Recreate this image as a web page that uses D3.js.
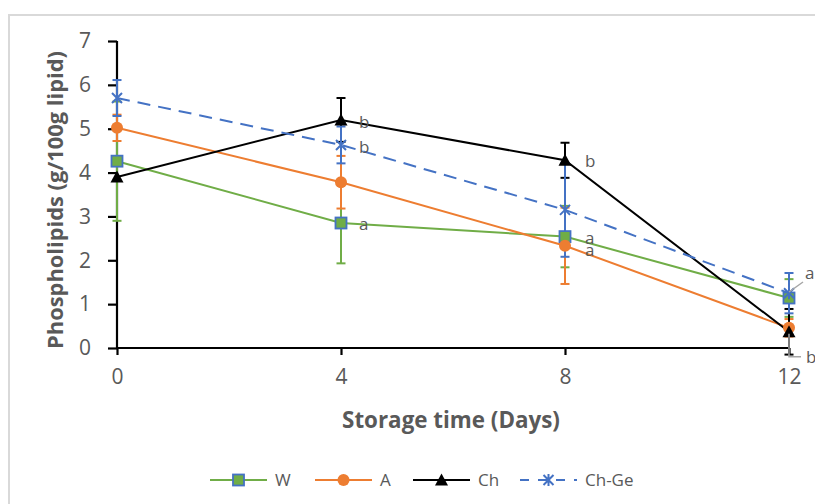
<!DOCTYPE html>
<html><head><meta charset="utf-8">
<script src="https://cdn.jsdelivr.net/npm/d3@7"></script>
<style>body{margin:0;background:#fff}svg{display:block}text{font-family:"Open Sans",sans-serif;fill:#595959}</style>
</head><body><svg id="c" width="815" height="504"></svg>
<script>
const days = [0, 4, 8, 12];
const yTicks = [0, 1, 2, 3, 4, 5, 6, 7];
const seriesNames = ["W", "A", "Ch", "Ch-Ge"];
const W = [4.26, 2.85, 2.54, 1.14];
const A = [5.02, 3.78, 2.33, 0.46];
const Ch = [3.90, 5.20, 4.28, 0.37];
const ChGe = [5.70, 4.63, 3.15, 1.25];
const errW = [1.36, 0.92, 0.70, 0.43];
const errA = [0.30, 0.60, 0.87, 0.20];
const errCh = [0.00, 0.50, 0.40, 0.52];
const errChGe = [0.41, 0.42, 1.07, 0.46];
const labelsW = ["", "a", "a", "a"];
const labelsA = ["", "", "a", ""];
const labelsCh = ["", "b", "b", "b"];
const labelsChGe = ["", "b", "", ""];

const svg = d3.select("#c");
const x = d3.scaleLinear().domain([0, 12]).range([117, 789]);
const y = d3.scaleLinear().domain([0, 7]).range([348, 41]);

// outer border
svg.append("path").attr("d", "M9,504V15H815").attr("fill", "none").attr("stroke", "#d9d9d9").attr("stroke-width", 2);

const series = [
  {name: "W", v: W, e: errW, lab: labelsW, color: "#70ad47", marker: "square", dash: null},
  {name: "A", v: A, e: errA, lab: labelsA, color: "#ed7d31", marker: "circle", dash: null},
  {name: "Ch", v: Ch, e: errCh, lab: labelsCh, color: "#000000", marker: "triangle", dash: null},
  {name: "Ch-Ge", v: ChGe, e: errChGe, lab: labelsChGe, color: "#4472c4", marker: "star", dash: "13,8"}
];

// axes
const yAxis = svg.append("g").attr("transform", `translate(${x(0)},0)`)
  .call(d3.axisLeft(y).tickValues(yTicks).tickSize(9).tickPadding(17).tickFormat(d3.format("d")));
const xAxis = svg.append("g").attr("transform", `translate(0,${y(0)})`)
  .call(d3.axisBottom(x).tickValues(days).tickSize(7).tickPadding(14).tickFormat(d3.format("d")));
[yAxis, xAxis].forEach(g => {
  g.select(".domain").attr("stroke", "#000").attr("stroke-width", 2.2);
  g.selectAll(".tick line").attr("stroke", "#000").attr("stroke-width", 2.2);
  g.selectAll(".tick text").attr("font-size", 21).attr("fill", "#595959").style("font-family", '"Open Sans",sans-serif');
});
yAxis.select(".domain").attr("d", `M0,${y(7)}V${y(0)}`);
xAxis.select(".domain").attr("d", `M${x(0)},0H${x(12)}`);

// lines
const line = d3.line().x((d, i) => x(days[i])).y(d => y(d));
series.forEach(s => {
  svg.append("path").datum(s.v).attr("d", line).attr("fill", "none")
    .attr("stroke", s.color).attr("stroke-width", 2).attr("stroke-dasharray", s.dash);
});

// error bars
series.forEach(s => {
  const g = svg.append("g").attr("stroke", s.color).attr("stroke-width", 2);
  s.v.forEach((v, i) => {
    if (!s.e[i]) return;
    const cx = x(days[i]), t = y(v + s.e[i]), b = y(v - s.e[i]);
    g.append("line").attr("x1", cx).attr("x2", cx).attr("y1", t).attr("y2", b);
    g.append("line").attr("x1", cx - 4.5).attr("x2", cx + 4.5).attr("y1", t).attr("y2", t);
    g.append("line").attr("x1", cx - 4.5).attr("x2", cx + 4.5).attr("y1", b).attr("y2", b);
  });
});

function drawMarker(g, type, cx, cy, color) {
  if (type === "square") {
    g.append("rect").attr("x", cx - 5.5).attr("y", cy - 5.5).attr("width", 11).attr("height", 11)
      .attr("fill", "#70ad47").attr("stroke", "#4472c4").attr("stroke-width", 1.8);
  } else if (type === "circle") {
    g.append("circle").attr("cx", cx).attr("cy", cy).attr("r", 6).attr("fill", color);
  } else if (type === "triangle") {
    g.append("path").attr("d", `M${cx},${cy - 6.5}L${cx + 6.5},${cy + 5.5}L${cx - 6.5},${cy + 5.5}Z`).attr("fill", color);
  } else {
    const r = 5;
    g.append("path").attr("d", `M${cx - r},${cy - r}L${cx + r},${cy + r}M${cx - r},${cy + r}L${cx + r},${cy - r}M${cx},${cy - r - 1}V${cy + r + 1}`)
      .attr("stroke", color).attr("stroke-width", 2).attr("fill", "none");
  }
}

// markers
series.forEach(s => {
  const g = svg.append("g");
  s.v.forEach((v, i) => drawMarker(g, s.marker, x(days[i]), y(v), s.color));
});

// data labels
const labelOffsets = {
  "W": [[0, 0], [18, 7], [20, 7], [0, 0]],
  "A": [[0, 0], [0, 0], [20, 10], [0, 0]],
  "Ch": [[0, 0], [18, 8], [20, 7], [0, 0]],
  "Ch-Ge": [[0, 0], [18, 8], [0, 0], [0, 0]]
};
series.forEach(s => {
  s.lab.forEach((l, i) => {
    if (!l) return;
    let dx = labelOffsets[s.name][i][0], dy = labelOffsets[s.name][i][1];
    let px = x(days[i]), py = y(s.v[i]);
    if (s.name === "W" && i === 3) {
      svg.append("path").attr("d", `M${px},${py - 6}L${px + 14},${py - 16}`).attr("stroke", "#a6a6a6").attr("stroke-width", 1.5).attr("fill", "none");
      dx = 16; dy = -19;
    }
    if (s.name === "Ch" && i === 3) {
      svg.append("path").attr("d", `M${px},${py + 2}V${py + 25}H${px + 12}`).attr("stroke", "#a6a6a6").attr("stroke-width", 1.5).attr("fill", "none");
      dx = 17; dy = 31;
    }
    svg.append("text").attr("x", px + dx).attr("y", py + dy).attr("font-size", 17).text(l);
  });
});

// axis titles
function fitText(t, w) {
  const len = t.node().getComputedTextLength();
  const fs = parseFloat(t.attr("font-size"));
  t.attr("font-size", fs * w / len);
}
const xt = svg.append("text").attr("x", 451).attr("y", 428).attr("text-anchor", "middle")
  .attr("font-size", 21).attr("font-weight", "bold").text("Storage time (Days)");
fitText(xt, 218);
const yt = svg.append("text").attr("transform", "translate(63,200) rotate(-90)").attr("text-anchor", "middle")
  .attr("font-size", 21).attr("font-weight", "bold").text("Phospholipids (g/100g lipid)");
fitText(yt, 298);

// legend
const legX = [210, 315, 413, 520];
const leg = svg.append("g");
series.forEach((s, i) => {
  const lx = legX[i], ly = 480;
  leg.append("line").attr("x1", lx).attr("x2", lx + 57).attr("y1", ly).attr("y2", ly)
    .attr("stroke", s.color).attr("stroke-width", 2).attr("stroke-dasharray", s.dash ? "9,9" : null);
  drawMarker(leg, s.marker, lx + 28.5, ly, s.color);
  leg.append("text").attr("x", lx + 65).attr("y", ly + 6).attr("font-size", 17).text(seriesNames[i]);
});
</script></body></html>
